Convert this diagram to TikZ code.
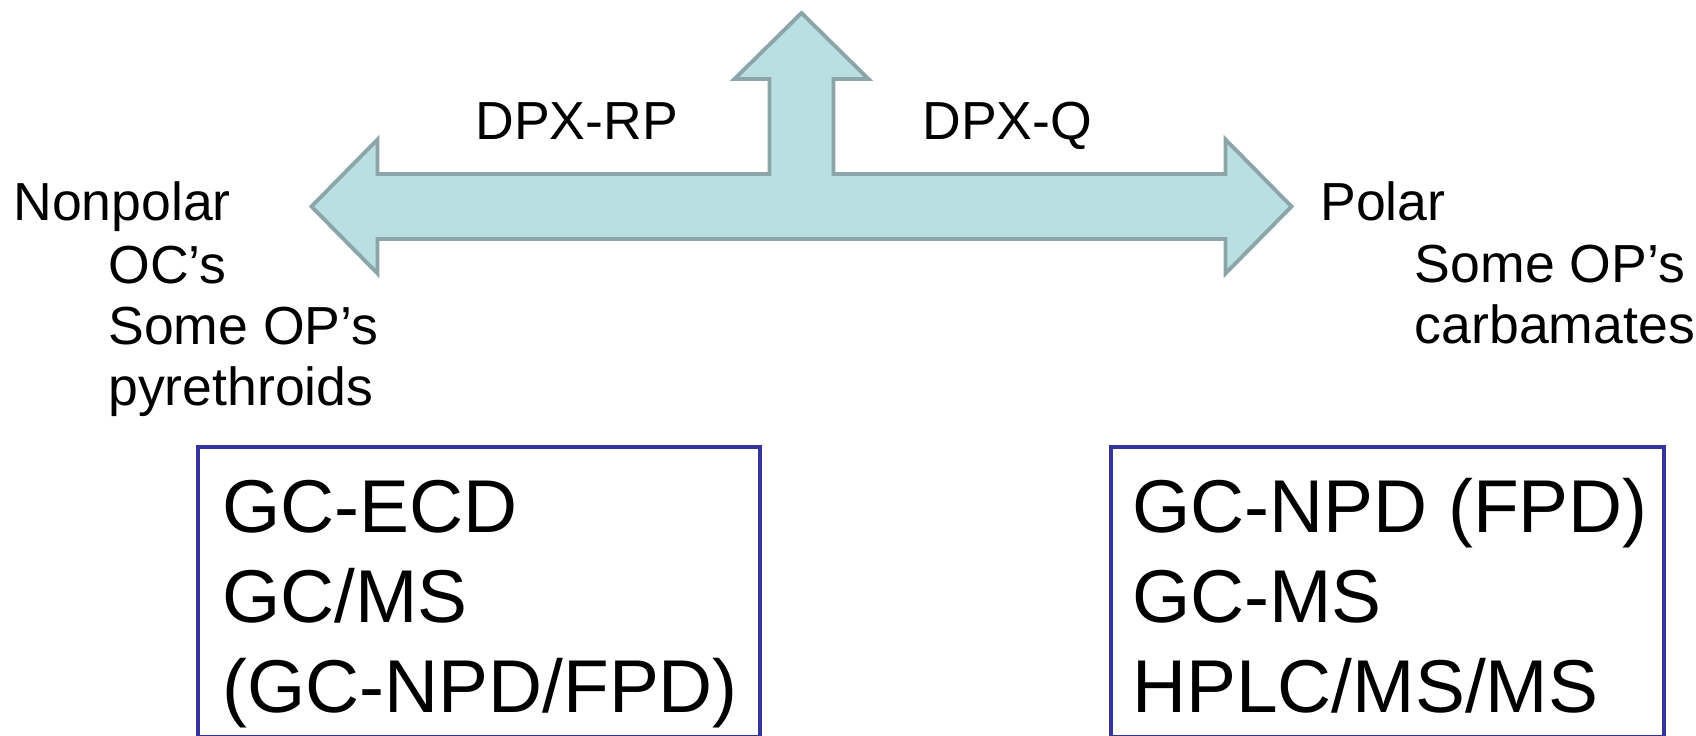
\documentclass[tikz,border=0pt]{standalone}
\usepackage{fontspec}
\setmainfont{Liberation Sans}
\definecolor{arrowfill}{HTML}{BADFE2}
\definecolor{arrowline}{HTML}{8BA5A8}
\definecolor{boxline}{HTML}{333399}
\tikzset{
  txt/.style={anchor=base west,inner sep=0pt,font=\fontsize{30.5}{34.75}\selectfont},
  boxtxt/.style={anchor=base west,inner sep=0pt,align=left,font=\fontsize{42.6}{51}\selectfont},
  methodbox/.style={draw=boxline,line width=2pt}
}
\begin{document}
\begin{tikzpicture}[x=0.02cm,y=-0.02cm,line join=miter]
	\useasboundingbox (0,0) rectangle (1696,736);
	\def\cx{801.5} \def\cy{206.5} \def\sh{32.5} \def\hh{67} \def\hl{66}
	\def\tip{490} \def\up{193.5}
	\path
	(\cx-\tip,\cy) coordinate (L)
	(\cx+\tip,\cy) coordinate (R)
	(\cx,\cy-\up) coordinate (U)
	;
	% big three-way arrow
	\draw[fill=arrowfill,draw=arrowline,line width=2.2pt]
	(L) -- ++(\hl,-\hh) -- ++(0,\hh-\sh) -| (\cx-\sh+0.5,\cy-\up+\hl)
	-- ++(-35,0) -- (U) -- ++(\hh,\hl) -- ++(-35,0)
	|- (\cx+\tip-\hl,\cy-\sh) -- ++(0,\sh-\hh) -- (R)
	-- ++(-\hl,\hh) -- ++(0,\sh-\hh) -- (\cx-\tip+\hl,\cy+\sh)
	-- ++(0,\hh-\sh) -- cycle;
	\node[txt] (rp) at (475,140) {DPX-RP};
	\node[txt] (q) at (922,140) {DPX-Q};
	\node[txt] (nonpolar) at (13,221) {Nonpolar};
	% base of a multi-line node = last line
	\node[txt,align=left] (nplist) at (108,405.5) {OC’s\\Some OP’s\\pyrethroids};
	\node[txt] (polar) at (1320,221) {Polar};
	\node[txt,align=left] (plist) at (1414.5,343.5) {Some OP’s\\carbamates};
	% detection methods
	\draw[methodbox] (198,447) rectangle (760,737);
	\draw[methodbox] (1111,447) rectangle (1664,737);
	\node[boxtxt] (gcleft) at (222,712) {GC-ECD\\GC/MS\\(GC-NPD/FPD)};
	\node[boxtxt] (gcright) at (1132,712) {GC-NPD (FPD)\\GC-MS\\HPLC/MS/MS};
\end{tikzpicture}
\end{document}
